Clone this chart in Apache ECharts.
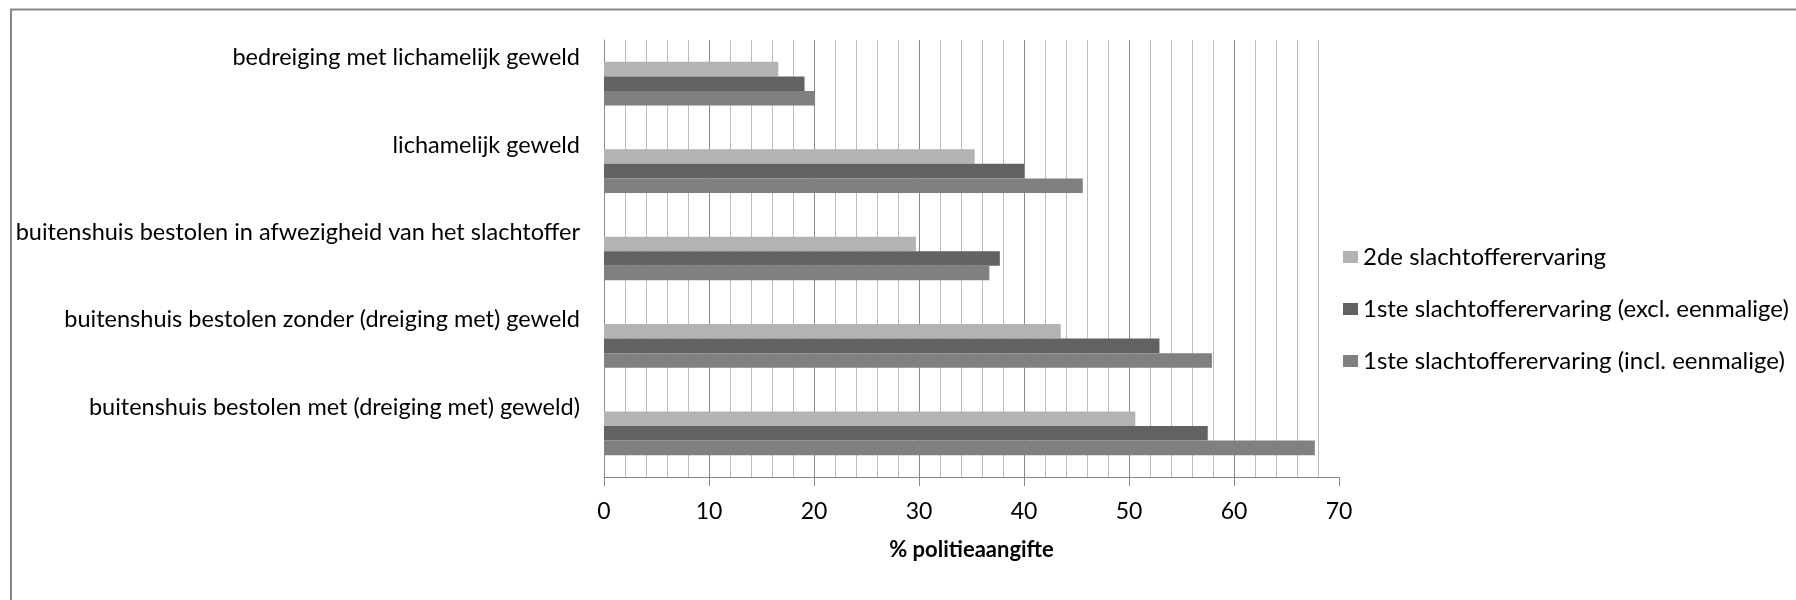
<!DOCTYPE html>
<html>
<head>
<meta charset="utf-8">
<script src="https://cdn.jsdelivr.net/npm/echarts@6/dist/echarts.min.js"></script>
<style>
html,body{margin:0;padding:0;background:#fff;}
#chart{width:1796px;height:600px;}
</style>
</head>
<body>
<div id="chart"></div>
<script>
// Categories listed bottom-to-top (ECharts category y axis starts at the bottom)
const categories = [
  'buitenshuis bestolen met (dreiging met) geweld)',
  'buitenshuis bestolen zonder (dreiging met) geweld',
  'buitenshuis bestolen in afwezigheid van het slachtoffer',
  'lichamelijk geweld',
  'bedreiging met lichamelijk geweld'
];
const seriesNames = [
  '2de slachtofferervaring',
  '1ste slachtofferervaring (excl. eenmalige)',
  '1ste slachtofferervaring (incl. eenmalige)'
];
const tweedeValues = [50.6, 43.5, 29.7, 35.3, 16.6];
const eersteExclValues = [57.5, 52.9, 37.7, 40.0, 19.1];
const eersteInclValues = [67.7, 57.9, 36.7, 45.6, 20.1];
const axisTitle = '% politieaangifte';

const FONT = 'Lato';
const chart = echarts.init(document.getElementById('chart'), null, {renderer: 'canvas'});
const colors = {light: '#b3b3b3', dark: '#626262', mid: '#808080'};
const g = '#8a8a8a';

chart.setOption({
  animation: false,
  backgroundColor: '#ffffff',
  graphic: [{
    type: 'rect',
    shape: {x: 11, y: 9.5, width: 1900, height: 800},
    style: {fill: 'none', stroke: '#878787', lineWidth: 2},
    silent: true
  }],
  grid: {left: 604, right: 457, top: 40, bottom: 123, containLabel: false},
  legend: {
    orient: 'vertical',
    left: 1338,
    top: 240,
    itemWidth: 15,
    itemHeight: 12,
    itemGap: 28,
    icon: 'rect',
    data: seriesNames,
    textStyle: {fontFamily: FONT, fontSize: 24, color: '#000'}
  },
  xAxis: {
    type: 'value',
    min: 0,
    max: 70,
    interval: 10,
    name: axisTitle,
    nameLocation: 'middle',
    nameGap: 62,
    nameTextStyle: {fontFamily: FONT, fontSize: 22, fontWeight: 'bold', color: '#000'},
    axisLine: {show: true, lineStyle: {color: '#888888', width: 1}},
    axisTick: {show: true, length: 9, lineStyle: {color: '#888888'}},
    axisLabel: {fontFamily: FONT, fontSize: 23, color: '#000', margin: 23},
    splitLine: {show: true, lineStyle: {color: [g, g, g, g, g, g, g, 'rgba(0,0,0,0)'], width: 1}},
    minorTick: {show: false, splitNumber: 5},
    minorSplitLine: {show: true, lineStyle: {color: '#bcbcbc', width: 1}}
  },
  yAxis: {
    type: 'category',
    data: categories,
    axisLine: {show: true, lineStyle: {color: '#888888', width: 1}},
    axisTick: {show: false},
    splitLine: {show: false},
    axisLabel: {
      interval: 0,
      fontFamily: FONT,
      fontSize: 23.5,
      color: '#000',
      margin: 24,
      lineHeight: 52,
      formatter: function (v) { return v + '\n '; }
    }
  },
  series: [
    {name: seriesNames[0], type: 'bar', data: tweedeValues, itemStyle: {color: colors.light}, barGap: '0%', barCategoryGap: '50%'},
    {name: seriesNames[1], type: 'bar', data: eersteExclValues, itemStyle: {color: colors.dark}, barGap: '0%', barCategoryGap: '50%'},
    {name: seriesNames[2], type: 'bar', data: eersteInclValues, itemStyle: {color: colors.mid}, barGap: '0%', barCategoryGap: '50%'}
  ]
});
</script>
</body>
</html>
